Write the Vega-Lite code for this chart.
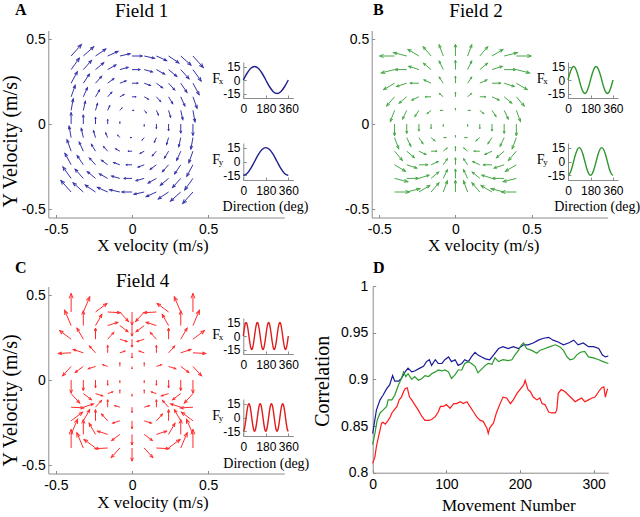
{
"$schema":"https://vega.github.io/schema/vega-lite/v6.json",
"width":640,"height":517,"autosize":{"type":"none"},"padding":0,"background":"white",
"config":{
 "view":{"stroke":null},
 "locale":{"number":{"decimal":".","thousands":",","grouping":[3],"currency":["$",""],"minus":"-"}},
 "axis":{"grid":false,"domainColor":"#8c8c8c","tickColor":"#8c8c8c","tickSize":-3,"labelColor":"#000000","labelFont":"Liberation Sans","labelFontSize":14,"titleFont":"Liberation Serif","titleFontWeight":"normal","titleColor":"#000000","labelFlush":false,"labelOverlap":false}
},
"datasets":{
"q":[
{"x":-0.4,"y":0.4,"u1":5,"v1":5,"u2":-7.071,"v2":0,"u4":0,"v4":7.071},
{"x":-0.32,"y":0.4,"u1":5,"v1":4,"u2":-6.247,"v2":1.406,"u4":2.743,"v4":5.787},
{"x":-0.24,"y":0.4,"u1":5,"v1":3,"u2":-5.145,"v2":2.744,"u4":4.842,"v4":3.248},
{"x":-0.16,"y":0.4,"u1":5,"v1":2,"u2":-3.714,"v2":3.9,"u4":5.379,"v4":-0.263},
{"x":-0.08,"y":0.4,"u1":5,"v1":1,"u2":-1.961,"v2":4.707,"u4":3.621,"v4":-3.591},
{"x":0,"y":0.4,"u1":5,"v1":0,"u2":0,"v2":5,"u4":0,"v4":-5},
{"x":0.08,"y":0.4,"u1":5,"v1":-1,"u2":1.961,"v2":4.707,"u4":-3.621,"v4":-3.591},
{"x":0.16,"y":0.4,"u1":5,"v1":-2,"u2":3.714,"v2":3.9,"u4":-5.379,"v4":-0.263},
{"x":0.24,"y":0.4,"u1":5,"v1":-3,"u2":5.145,"v2":2.744,"u4":-4.842,"v4":3.248},
{"x":0.32,"y":0.4,"u1":5,"v1":-4,"u2":6.247,"v2":1.406,"u4":-2.743,"v4":5.787},
{"x":0.4,"y":0.4,"u1":5,"v1":-5,"u2":7.071,"v2":0,"u4":0,"v4":7.071},
{"x":-0.4,"y":0.32,"u1":4,"v1":5,"u2":-6.247,"v2":-1.406,"u4":-2.743,"v4":5.787},
{"x":-0.32,"y":0.32,"u1":4,"v1":4,"u2":-5.657,"v2":0,"u4":0,"v4":5.657},
{"x":-0.24,"y":0.32,"u1":4,"v1":3,"u2":-4.8,"v2":1.4,"u4":2.688,"v4":4.216},
{"x":-0.16,"y":0.32,"u1":4,"v1":2,"u2":-3.578,"v2":2.683,"u4":4.293,"v4":1.252},
{"x":-0.08,"y":0.32,"u1":4,"v1":1,"u2":-1.94,"v2":3.638,"u4":3.424,"v4":-2.297},
{"x":0,"y":0.32,"u1":4,"v1":0,"u2":0,"v2":4,"u4":0,"v4":-4},
{"x":0.08,"y":0.32,"u1":4,"v1":-1,"u2":1.94,"v2":3.638,"u4":-3.424,"v4":-2.297},
{"x":0.16,"y":0.32,"u1":4,"v1":-2,"u2":3.578,"v2":2.683,"u4":-4.293,"v4":1.252},
{"x":0.24,"y":0.32,"u1":4,"v1":-3,"u2":4.8,"v2":1.4,"u4":-2.688,"v4":4.216},
{"x":0.32,"y":0.32,"u1":4,"v1":-4,"u2":5.657,"v2":0,"u4":0,"v4":5.657},
{"x":0.4,"y":0.32,"u1":4,"v1":-5,"u2":6.247,"v2":-1.406,"u4":2.743,"v4":5.787},
{"x":-0.4,"y":0.24,"u1":3,"v1":5,"u2":-5.145,"v2":-2.744,"u4":-4.842,"v4":3.248},
{"x":-0.32,"y":0.24,"u1":3,"v1":4,"u2":-4.8,"v2":-1.4,"u4":-2.688,"v4":4.216},
{"x":-0.24,"y":0.24,"u1":3,"v1":3,"u2":-4.243,"v2":0,"u4":0,"v4":4.243},
{"x":-0.16,"y":0.24,"u1":3,"v1":2,"u2":-3.328,"v2":1.387,"u4":2.56,"v4":2.539},
{"x":-0.08,"y":0.24,"u1":3,"v1":1,"u2":-1.897,"v2":2.53,"u4":3.036,"v4":-0.886},
{"x":0,"y":0.24,"u1":3,"v1":0,"u2":0,"v2":3,"u4":0,"v4":-3},
{"x":0.08,"y":0.24,"u1":3,"v1":-1,"u2":1.897,"v2":2.53,"u4":-3.036,"v4":-0.886},
{"x":0.16,"y":0.24,"u1":3,"v1":-2,"u2":3.328,"v2":1.387,"u4":-2.56,"v4":2.539},
{"x":0.24,"y":0.24,"u1":3,"v1":-3,"u2":4.243,"v2":0,"u4":0,"v4":4.243},
{"x":0.32,"y":0.24,"u1":3,"v1":-4,"u2":4.8,"v2":-1.4,"u4":2.688,"v4":4.216},
{"x":0.4,"y":0.24,"u1":3,"v1":-5,"u2":5.145,"v2":-2.744,"u4":4.842,"v4":3.248},
{"x":-0.4,"y":0.16,"u1":2,"v1":5,"u2":-3.714,"v2":-3.9,"u4":-5.379,"v4":-0.263},
{"x":-0.32,"y":0.16,"u1":2,"v1":4,"u2":-3.578,"v2":-2.683,"u4":-4.293,"v4":1.252},
{"x":-0.24,"y":0.16,"u1":2,"v1":3,"u2":-3.328,"v2":-1.387,"u4":-2.56,"v4":2.539},
{"x":-0.16,"y":0.16,"u1":2,"v1":2,"u2":-2.828,"v2":0,"u4":0,"v4":2.828},
{"x":-0.08,"y":0.16,"u1":2,"v1":1,"u2":-1.789,"v2":1.342,"u4":2.147,"v4":0.626},
{"x":0,"y":0.16,"u1":2,"v1":0,"u2":0,"v2":2,"u4":0,"v4":-2},
{"x":0.08,"y":0.16,"u1":2,"v1":-1,"u2":1.789,"v2":1.342,"u4":-2.147,"v4":0.626},
{"x":0.16,"y":0.16,"u1":2,"v1":-2,"u2":2.828,"v2":0,"u4":0,"v4":2.828},
{"x":0.24,"y":0.16,"u1":2,"v1":-3,"u2":3.328,"v2":-1.387,"u4":2.56,"v4":2.539},
{"x":0.32,"y":0.16,"u1":2,"v1":-4,"u2":3.578,"v2":-2.683,"u4":4.293,"v4":1.252},
{"x":0.4,"y":0.16,"u1":2,"v1":-5,"u2":3.714,"v2":-3.9,"u4":5.379,"v4":-0.263},
{"x":-0.4,"y":0.08,"u1":1,"v1":5,"u2":-1.961,"v2":-4.707,"u4":-3.621,"v4":-3.591},
{"x":-0.32,"y":0.08,"u1":1,"v1":4,"u2":-1.94,"v2":-3.638,"u4":-3.424,"v4":-2.297},
{"x":-0.24,"y":0.08,"u1":1,"v1":3,"u2":-1.897,"v2":-2.53,"u4":-3.036,"v4":-0.886},
{"x":-0.16,"y":0.08,"u1":1,"v1":2,"u2":-1.789,"v2":-1.342,"u4":-2.147,"v4":0.626},
{"x":-0.08,"y":0.08,"u1":1,"v1":1,"u2":-1.414,"v2":0,"u4":0,"v4":1.414},
{"x":0,"y":0.08,"u1":1,"v1":0,"u2":0,"v2":1,"u4":0,"v4":-1},
{"x":0.08,"y":0.08,"u1":1,"v1":-1,"u2":1.414,"v2":0,"u4":0,"v4":1.414},
{"x":0.16,"y":0.08,"u1":1,"v1":-2,"u2":1.789,"v2":-1.342,"u4":2.147,"v4":0.626},
{"x":0.24,"y":0.08,"u1":1,"v1":-3,"u2":1.897,"v2":-2.53,"u4":3.036,"v4":-0.886},
{"x":0.32,"y":0.08,"u1":1,"v1":-4,"u2":1.94,"v2":-3.638,"u4":3.424,"v4":-2.297},
{"x":0.4,"y":0.08,"u1":1,"v1":-5,"u2":1.961,"v2":-4.707,"u4":3.621,"v4":-3.591},
{"x":-0.4,"y":0,"u1":0,"v1":5,"u2":0,"v2":-5,"u4":0,"v4":-5},
{"x":-0.32,"y":0,"u1":0,"v1":4,"u2":0,"v2":-4,"u4":0,"v4":-4},
{"x":-0.24,"y":0,"u1":0,"v1":3,"u2":0,"v2":-3,"u4":0,"v4":-3},
{"x":-0.16,"y":0,"u1":0,"v1":2,"u2":0,"v2":-2,"u4":0,"v4":-2},
{"x":-0.08,"y":0,"u1":0,"v1":1,"u2":0,"v2":-1,"u4":0,"v4":-1},
{"x":0.08,"y":0,"u1":0,"v1":-1,"u2":0,"v2":-1,"u4":0,"v4":-1},
{"x":0.16,"y":0,"u1":0,"v1":-2,"u2":0,"v2":-2,"u4":0,"v4":-2},
{"x":0.24,"y":0,"u1":0,"v1":-3,"u2":0,"v2":-3,"u4":0,"v4":-3},
{"x":0.32,"y":0,"u1":0,"v1":-4,"u2":0,"v2":-4,"u4":0,"v4":-4},
{"x":0.4,"y":0,"u1":0,"v1":-5,"u2":0,"v2":-5,"u4":0,"v4":-5},
{"x":-0.4,"y":-0.08,"u1":-1,"v1":5,"u2":1.961,"v2":-4.707,"u4":3.621,"v4":-3.591},
{"x":-0.32,"y":-0.08,"u1":-1,"v1":4,"u2":1.94,"v2":-3.638,"u4":3.424,"v4":-2.297},
{"x":-0.24,"y":-0.08,"u1":-1,"v1":3,"u2":1.897,"v2":-2.53,"u4":3.036,"v4":-0.886},
{"x":-0.16,"y":-0.08,"u1":-1,"v1":2,"u2":1.789,"v2":-1.342,"u4":2.147,"v4":0.626},
{"x":-0.08,"y":-0.08,"u1":-1,"v1":1,"u2":1.414,"v2":0,"u4":0,"v4":1.414},
{"x":0,"y":-0.08,"u1":-1,"v1":0,"u2":0,"v2":1,"u4":0,"v4":-1},
{"x":0.08,"y":-0.08,"u1":-1,"v1":-1,"u2":-1.414,"v2":0,"u4":0,"v4":1.414},
{"x":0.16,"y":-0.08,"u1":-1,"v1":-2,"u2":-1.789,"v2":-1.342,"u4":-2.147,"v4":0.626},
{"x":0.24,"y":-0.08,"u1":-1,"v1":-3,"u2":-1.897,"v2":-2.53,"u4":-3.036,"v4":-0.886},
{"x":0.32,"y":-0.08,"u1":-1,"v1":-4,"u2":-1.94,"v2":-3.638,"u4":-3.424,"v4":-2.297},
{"x":0.4,"y":-0.08,"u1":-1,"v1":-5,"u2":-1.961,"v2":-4.707,"u4":-3.621,"v4":-3.591},
{"x":-0.4,"y":-0.16,"u1":-2,"v1":5,"u2":3.714,"v2":-3.9,"u4":5.379,"v4":-0.263},
{"x":-0.32,"y":-0.16,"u1":-2,"v1":4,"u2":3.578,"v2":-2.683,"u4":4.293,"v4":1.252},
{"x":-0.24,"y":-0.16,"u1":-2,"v1":3,"u2":3.328,"v2":-1.387,"u4":2.56,"v4":2.539},
{"x":-0.16,"y":-0.16,"u1":-2,"v1":2,"u2":2.828,"v2":0,"u4":0,"v4":2.828},
{"x":-0.08,"y":-0.16,"u1":-2,"v1":1,"u2":1.789,"v2":1.342,"u4":-2.147,"v4":0.626},
{"x":0,"y":-0.16,"u1":-2,"v1":0,"u2":0,"v2":2,"u4":0,"v4":-2},
{"x":0.08,"y":-0.16,"u1":-2,"v1":-1,"u2":-1.789,"v2":1.342,"u4":2.147,"v4":0.626},
{"x":0.16,"y":-0.16,"u1":-2,"v1":-2,"u2":-2.828,"v2":0,"u4":0,"v4":2.828},
{"x":0.24,"y":-0.16,"u1":-2,"v1":-3,"u2":-3.328,"v2":-1.387,"u4":-2.56,"v4":2.539},
{"x":0.32,"y":-0.16,"u1":-2,"v1":-4,"u2":-3.578,"v2":-2.683,"u4":-4.293,"v4":1.252},
{"x":0.4,"y":-0.16,"u1":-2,"v1":-5,"u2":-3.714,"v2":-3.9,"u4":-5.379,"v4":-0.263},
{"x":-0.4,"y":-0.24,"u1":-3,"v1":5,"u2":5.145,"v2":-2.744,"u4":4.842,"v4":3.248},
{"x":-0.32,"y":-0.24,"u1":-3,"v1":4,"u2":4.8,"v2":-1.4,"u4":2.688,"v4":4.216},
{"x":-0.24,"y":-0.24,"u1":-3,"v1":3,"u2":4.243,"v2":0,"u4":0,"v4":4.243},
{"x":-0.16,"y":-0.24,"u1":-3,"v1":2,"u2":3.328,"v2":1.387,"u4":-2.56,"v4":2.539},
{"x":-0.08,"y":-0.24,"u1":-3,"v1":1,"u2":1.897,"v2":2.53,"u4":-3.036,"v4":-0.886},
{"x":0,"y":-0.24,"u1":-3,"v1":0,"u2":0,"v2":3,"u4":0,"v4":-3},
{"x":0.08,"y":-0.24,"u1":-3,"v1":-1,"u2":-1.897,"v2":2.53,"u4":3.036,"v4":-0.886},
{"x":0.16,"y":-0.24,"u1":-3,"v1":-2,"u2":-3.328,"v2":1.387,"u4":2.56,"v4":2.539},
{"x":0.24,"y":-0.24,"u1":-3,"v1":-3,"u2":-4.243,"v2":0,"u4":0,"v4":4.243},
{"x":0.32,"y":-0.24,"u1":-3,"v1":-4,"u2":-4.8,"v2":-1.4,"u4":-2.688,"v4":4.216},
{"x":0.4,"y":-0.24,"u1":-3,"v1":-5,"u2":-5.145,"v2":-2.744,"u4":-4.842,"v4":3.248},
{"x":-0.4,"y":-0.32,"u1":-4,"v1":5,"u2":6.247,"v2":-1.406,"u4":2.743,"v4":5.787},
{"x":-0.32,"y":-0.32,"u1":-4,"v1":4,"u2":5.657,"v2":0,"u4":0,"v4":5.657},
{"x":-0.24,"y":-0.32,"u1":-4,"v1":3,"u2":4.8,"v2":1.4,"u4":-2.688,"v4":4.216},
{"x":-0.16,"y":-0.32,"u1":-4,"v1":2,"u2":3.578,"v2":2.683,"u4":-4.293,"v4":1.252},
{"x":-0.08,"y":-0.32,"u1":-4,"v1":1,"u2":1.94,"v2":3.638,"u4":-3.424,"v4":-2.297},
{"x":0,"y":-0.32,"u1":-4,"v1":0,"u2":0,"v2":4,"u4":0,"v4":-4},
{"x":0.08,"y":-0.32,"u1":-4,"v1":-1,"u2":-1.94,"v2":3.638,"u4":3.424,"v4":-2.297},
{"x":0.16,"y":-0.32,"u1":-4,"v1":-2,"u2":-3.578,"v2":2.683,"u4":4.293,"v4":1.252},
{"x":0.24,"y":-0.32,"u1":-4,"v1":-3,"u2":-4.8,"v2":1.4,"u4":2.688,"v4":4.216},
{"x":0.32,"y":-0.32,"u1":-4,"v1":-4,"u2":-5.657,"v2":0,"u4":0,"v4":5.657},
{"x":0.4,"y":-0.32,"u1":-4,"v1":-5,"u2":-6.247,"v2":-1.406,"u4":-2.743,"v4":5.787},
{"x":-0.4,"y":-0.4,"u1":-5,"v1":5,"u2":7.071,"v2":0,"u4":0,"v4":7.071},
{"x":-0.32,"y":-0.4,"u1":-5,"v1":4,"u2":6.247,"v2":1.406,"u4":-2.743,"v4":5.787},
{"x":-0.24,"y":-0.4,"u1":-5,"v1":3,"u2":5.145,"v2":2.744,"u4":-4.842,"v4":3.248},
{"x":-0.16,"y":-0.4,"u1":-5,"v1":2,"u2":3.714,"v2":3.9,"u4":-5.379,"v4":-0.263},
{"x":-0.08,"y":-0.4,"u1":-5,"v1":1,"u2":1.961,"v2":4.707,"u4":-3.621,"v4":-3.591},
{"x":0,"y":-0.4,"u1":-5,"v1":0,"u2":0,"v2":5,"u4":0,"v4":-5},
{"x":0.08,"y":-0.4,"u1":-5,"v1":-1,"u2":-1.961,"v2":4.707,"u4":3.621,"v4":-3.591},
{"x":0.16,"y":-0.4,"u1":-5,"v1":-2,"u2":-3.714,"v2":3.9,"u4":5.379,"v4":-0.263},
{"x":0.24,"y":-0.4,"u1":-5,"v1":-3,"u2":-5.145,"v2":2.744,"u4":4.842,"v4":3.248},
{"x":0.32,"y":-0.4,"u1":-5,"v1":-4,"u2":-6.247,"v2":1.406,"u4":2.743,"v4":5.787},
{"x":0.4,"y":-0.4,"u1":-5,"v1":-5,"u2":-7.071,"v2":0,"u4":0,"v4":7.071}
],
"s":[
{"f":1,"d":0,"fx":0,"fy":-15},{"f":1,"d":30,"fx":7.5,"fy":-12.99},{"f":1,"d":60,"fx":12.99,"fy":-7.5},{"f":1,"d":90,"fx":15,"fy":0},{"f":1,"d":120,"fx":12.99,"fy":7.5},{"f":1,"d":150,"fx":7.5,"fy":12.99},{"f":1,"d":180,"fx":0,"fy":15},{"f":1,"d":210,"fx":-7.5,"fy":12.99},{"f":1,"d":240,"fx":-12.99,"fy":7.5},{"f":1,"d":270,"fx":-15,"fy":0},{"f":1,"d":300,"fx":-12.99,"fy":-7.5},{"f":1,"d":330,"fx":-7.5,"fy":-12.99},{"f":1,"d":360,"fx":0,"fy":-15},
{"f":2,"d":0,"fx":0,"fy":-15},{"f":2,"d":15,"fx":7.5,"fy":-12.99},{"f":2,"d":30,"fx":12.99,"fy":-7.5},{"f":2,"d":45,"fx":15,"fy":0},{"f":2,"d":60,"fx":12.99,"fy":7.5},{"f":2,"d":75,"fx":7.5,"fy":12.99},{"f":2,"d":90,"fx":0,"fy":15},{"f":2,"d":105,"fx":-7.5,"fy":12.99},{"f":2,"d":120,"fx":-12.99,"fy":7.5},{"f":2,"d":135,"fx":-15,"fy":0},{"f":2,"d":150,"fx":-12.99,"fy":-7.5},{"f":2,"d":165,"fx":-7.5,"fy":-12.99},
{"f":2,"d":180,"fx":0,"fy":-15},{"f":2,"d":195,"fx":7.5,"fy":-12.99},{"f":2,"d":210,"fx":12.99,"fy":-7.5},{"f":2,"d":225,"fx":15,"fy":0},{"f":2,"d":240,"fx":12.99,"fy":7.5},{"f":2,"d":255,"fx":7.5,"fy":12.99},{"f":2,"d":270,"fx":0,"fy":15},{"f":2,"d":285,"fx":-7.5,"fy":12.99},{"f":2,"d":300,"fx":-12.99,"fy":7.5},{"f":2,"d":315,"fx":-15,"fy":0},{"f":2,"d":330,"fx":-12.99,"fy":-7.5},{"f":2,"d":345,"fx":-7.5,"fy":-12.99},{"f":2,"d":360,"fx":0,"fy":-15},
{"f":4,"d":0,"fx":0,"fy":-15},{"f":4,"d":7.5,"fx":7.5,"fy":-12.99},{"f":4,"d":15,"fx":12.99,"fy":-7.5},{"f":4,"d":22.5,"fx":15,"fy":0},{"f":4,"d":30,"fx":12.99,"fy":7.5},{"f":4,"d":37.5,"fx":7.5,"fy":12.99},{"f":4,"d":45,"fx":0,"fy":15},{"f":4,"d":52.5,"fx":-7.5,"fy":12.99},{"f":4,"d":60,"fx":-12.99,"fy":7.5},{"f":4,"d":67.5,"fx":-15,"fy":0},{"f":4,"d":75,"fx":-12.99,"fy":-7.5},{"f":4,"d":82.5,"fx":-7.5,"fy":-12.99},
{"f":4,"d":90,"fx":0,"fy":-15},{"f":4,"d":97.5,"fx":7.5,"fy":-12.99},{"f":4,"d":105,"fx":12.99,"fy":-7.5},{"f":4,"d":112.5,"fx":15,"fy":0},{"f":4,"d":120,"fx":12.99,"fy":7.5},{"f":4,"d":127.5,"fx":7.5,"fy":12.99},{"f":4,"d":135,"fx":0,"fy":15},{"f":4,"d":142.5,"fx":-7.5,"fy":12.99},{"f":4,"d":150,"fx":-12.99,"fy":7.5},{"f":4,"d":157.5,"fx":-15,"fy":0},{"f":4,"d":165,"fx":-12.99,"fy":-7.5},{"f":4,"d":172.5,"fx":-7.5,"fy":-12.99},
{"f":4,"d":180,"fx":0,"fy":-15},{"f":4,"d":187.5,"fx":7.5,"fy":-12.99},{"f":4,"d":195,"fx":12.99,"fy":-7.5},{"f":4,"d":202.5,"fx":15,"fy":0},{"f":4,"d":210,"fx":12.99,"fy":7.5},{"f":4,"d":217.5,"fx":7.5,"fy":12.99},{"f":4,"d":225,"fx":0,"fy":15},{"f":4,"d":232.5,"fx":-7.5,"fy":12.99},{"f":4,"d":240,"fx":-12.99,"fy":7.5},{"f":4,"d":247.5,"fx":-15,"fy":0},{"f":4,"d":255,"fx":-12.99,"fy":-7.5},{"f":4,"d":262.5,"fx":-7.5,"fy":-12.99},
{"f":4,"d":270,"fx":0,"fy":-15},{"f":4,"d":277.5,"fx":7.5,"fy":-12.99},{"f":4,"d":285,"fx":12.99,"fy":-7.5},{"f":4,"d":292.5,"fx":15,"fy":0},{"f":4,"d":300,"fx":12.99,"fy":7.5},{"f":4,"d":307.5,"fx":7.5,"fy":12.99},{"f":4,"d":315,"fx":0,"fy":15},{"f":4,"d":322.5,"fx":-7.5,"fy":12.99},{"f":4,"d":330,"fx":-12.99,"fy":7.5},{"f":4,"d":337.5,"fx":-15,"fy":0},{"f":4,"d":345,"fx":-12.99,"fy":-7.5},{"f":4,"d":352.5,"fx":-7.5,"fy":-12.99},{"f":4,"d":360,"fx":0,"fy":-15}
],
"c":[
{"s":"b","n":0,"c":0.842},{"s":"b","n":5,"c":0.867},{"s":"b","n":10,"c":0.878},{"s":"b","n":14,"c":0.883},{"s":"b","n":19,"c":0.89},{"s":"b","n":23,"c":0.894},{"s":"b","n":27,"c":0.904},{"s":"b","n":30,"c":0.898},{"s":"b","n":35,"c":0.898},{"s":"b","n":39,"c":0.901},{"s":"b","n":44,"c":0.908},{"s":"b","n":48,"c":0.912},{"s":"b","n":53,"c":0.908},{"s":"b","n":57,"c":0.909},{"s":"b","n":64,"c":0.912},{"s":"b","n":69,"c":0.914},{"s":"b","n":73,"c":0.919},{"s":"b","n":77,"c":0.921},{"s":"b","n":80,"c":0.915},{"s":"b","n":85,"c":0.921},{"s":"b","n":89,"c":0.917},{"s":"b","n":94,"c":0.917},{"s":"b","n":98,"c":0.921},{"s":"b","n":103,"c":0.924},{"s":"b","n":107,"c":0.919},{"s":"b","n":112,"c":0.921},{"s":"b","n":116,"c":0.915},{"s":"b","n":121,"c":0.917},{"s":"b","n":125,"c":0.921},{"s":"b","n":130,"c":0.919},{"s":"b","n":134,"c":0.924},{"s":"b","n":139,"c":0.929},{"s":"b","n":143,"c":0.926},{"s":"b","n":148,"c":0.924},{"s":"b","n":153,"c":0.922},{"s":"b","n":159,"c":0.921},{"s":"b","n":164,"c":0.926},{"s":"b","n":171,"c":0.933},{"s":"b","n":177,"c":0.935},{"s":"b","n":184,"c":0.933},{"s":"b","n":191,"c":0.935},{"s":"b","n":198,"c":0.933},{"s":"b","n":205,"c":0.937},{"s":"b","n":211,"c":0.937},{"s":"b","n":218,"c":0.939},{"s":"b","n":225,"c":0.942},{"s":"b","n":232,"c":0.944},{"s":"b","n":239,"c":0.945},{"s":"b","n":245,"c":0.942},{"s":"b","n":252,"c":0.94},{"s":"b","n":259,"c":0.937},{"s":"b","n":266,"c":0.939},{"s":"b","n":273,"c":0.942},{"s":"b","n":279,"c":0.937},{"s":"b","n":286,"c":0.939},{"s":"b","n":293,"c":0.935},{"s":"b","n":300,"c":0.935},{"s":"b","n":307,"c":0.933},{"s":"b","n":312,"c":0.926},{"s":"b","n":316,"c":0.924},{"s":"b","n":320,"c":0.925},
{"s":"g","n":0,"c":0.83},{"s":"g","n":3,"c":0.842},{"s":"g","n":6,"c":0.856},{"s":"g","n":10,"c":0.864},{"s":"g","n":14,"c":0.867},{"s":"g","n":19,"c":0.871},{"s":"g","n":21,"c":0.878},{"s":"g","n":26,"c":0.878},{"s":"g","n":30,"c":0.883},{"s":"g","n":35,"c":0.894},{"s":"g","n":39,"c":0.901},{"s":"g","n":42,"c":0.908},{"s":"g","n":45,"c":0.903},{"s":"g","n":48,"c":0.906},{"s":"g","n":53,"c":0.9},{"s":"g","n":57,"c":0.903},{"s":"g","n":62,"c":0.899},{"s":"g","n":67,"c":0.901},{"s":"g","n":71,"c":0.904},{"s":"g","n":76,"c":0.903},{"s":"g","n":80,"c":0.906},{"s":"g","n":85,"c":0.908},{"s":"g","n":89,"c":0.91},{"s":"g","n":94,"c":0.909},{"s":"g","n":98,"c":0.91},{"s":"g","n":103,"c":0.908},{"s":"g","n":107,"c":0.901},{"s":"g","n":112,"c":0.905},{"s":"g","n":116,"c":0.91},{"s":"g","n":121,"c":0.91},{"s":"g","n":125,"c":0.917},{"s":"g","n":130,"c":0.919},{"s":"g","n":134,"c":0.917},{"s":"g","n":139,"c":0.914},{"s":"g","n":143,"c":0.907},{"s":"g","n":148,"c":0.911},{"s":"g","n":153,"c":0.915},{"s":"g","n":157,"c":0.917},{"s":"g","n":162,"c":0.916},{"s":"g","n":166,"c":0.923},{"s":"g","n":171,"c":0.919},{"s":"g","n":177,"c":0.921},{"s":"g","n":184,"c":0.92},{"s":"g","n":189,"c":0.921},{"s":"g","n":193,"c":0.926},{"s":"g","n":198,"c":0.931},{"s":"g","n":202,"c":0.937},{"s":"g","n":205,"c":0.939},{"s":"g","n":209,"c":0.933},{"s":"g","n":216,"c":0.931},{"s":"g","n":223,"c":0.928},{"s":"g","n":227,"c":0.931},{"s":"g","n":234,"c":0.933},{"s":"g","n":241,"c":0.935},{"s":"g","n":248,"c":0.937},{"s":"g","n":254,"c":0.935},{"s":"g","n":259,"c":0.931},{"s":"g","n":264,"c":0.924},{"s":"g","n":268,"c":0.921},{"s":"g","n":273,"c":0.922},{"s":"g","n":277,"c":0.926},{"s":"g","n":282,"c":0.929},{"s":"g","n":288,"c":0.93},{"s":"g","n":293,"c":0.924},{"s":"g","n":300,"c":0.923},{"s":"g","n":307,"c":0.921},{"s":"g","n":313,"c":0.919},{"s":"g","n":320,"c":0.917},
{"s":"r","n":0,"c":0.81},{"s":"r","n":3,"c":0.817},{"s":"r","n":5,"c":0.828},{"s":"r","n":8,"c":0.839},{"s":"r","n":10,"c":0.846},{"s":"r","n":12,"c":0.853},{"s":"r","n":14,"c":0.854},{"s":"r","n":17,"c":0.852},{"s":"r","n":19,"c":0.854},{"s":"r","n":21,"c":0.856},{"s":"r","n":24,"c":0.86},{"s":"r","n":26,"c":0.864},{"s":"r","n":29,"c":0.867},{"s":"r","n":33,"c":0.871},{"s":"r","n":36,"c":0.878},{"s":"r","n":39,"c":0.881},{"s":"r","n":42,"c":0.887},{"s":"r","n":44,"c":0.89},{"s":"r","n":47,"c":0.891},{"s":"r","n":50,"c":0.881},{"s":"r","n":53,"c":0.878},{"s":"r","n":57,"c":0.873},{"s":"r","n":62,"c":0.867},{"s":"r","n":67,"c":0.86},{"s":"r","n":71,"c":0.856},{"s":"r","n":76,"c":0.856},{"s":"r","n":80,"c":0.857},{"s":"r","n":85,"c":0.86},{"s":"r","n":89,"c":0.865},{"s":"r","n":92,"c":0.871},{"s":"r","n":96,"c":0.871},{"s":"r","n":100,"c":0.873},{"s":"r","n":105,"c":0.869},{"s":"r","n":110,"c":0.874},{"s":"r","n":114,"c":0.874},{"s":"r","n":119,"c":0.876},{"s":"r","n":123,"c":0.874},{"s":"r","n":128,"c":0.876},{"s":"r","n":132,"c":0.871},{"s":"r","n":137,"c":0.865},{"s":"r","n":141,"c":0.86},{"s":"r","n":146,"c":0.856},{"s":"r","n":150,"c":0.855},{"s":"r","n":155,"c":0.848},{"s":"r","n":157,"c":0.842},{"s":"r","n":159,"c":0.848},{"s":"r","n":164,"c":0.853},{"s":"r","n":168,"c":0.864},{"s":"r","n":173,"c":0.874},{"s":"r","n":177,"c":0.881},{"s":"r","n":182,"c":0.88},{"s":"r","n":187,"c":0.874},{"s":"r","n":191,"c":0.878},{"s":"r","n":196,"c":0.885},{"s":"r","n":200,"c":0.889},{"s":"r","n":205,"c":0.894},{"s":"r","n":207,"c":0.899},{"s":"r","n":211,"c":0.889},{"s":"r","n":214,"c":0.887},{"s":"r","n":218,"c":0.881},{"s":"r","n":223,"c":0.878},{"s":"r","n":227,"c":0.88},{"s":"r","n":230,"c":0.874},{"s":"r","n":234,"c":0.873},{"s":"r","n":239,"c":0.865},{"s":"r","n":243,"c":0.864},{"s":"r","n":248,"c":0.864},{"s":"r","n":250,"c":0.867},{"s":"r","n":252,"c":0.885},{"s":"r","n":256,"c":0.889},{"s":"r","n":261,"c":0.887},{"s":"r","n":266,"c":0.883},{"s":"r","n":270,"c":0.88},{"s":"r","n":275,"c":0.876},{"s":"r","n":279,"c":0.878},{"s":"r","n":284,"c":0.88},{"s":"r","n":288,"c":0.876},{"s":"r","n":293,"c":0.878},{"s":"r","n":298,"c":0.88},{"s":"r","n":302,"c":0.881},{"s":"r","n":307,"c":0.887},{"s":"r","n":311,"c":0.891},{"s":"r","n":314,"c":0.892},{"s":"r","n":316,"c":0.881},{"s":"r","n":319,"c":0.89}
]
},
"layer":[
{
 "layer":[
  {"data":{"name":"q"},"transform":[{"calculate":"datum.x+0.0135*datum.u1","as":"hx"},{"calculate":"datum.y+0.0135*datum.v1","as":"hy"}],
   "mark":{"type":"rule","color":"#3333aa","strokeWidth":1},
   "encoding":{
    "x":{"field":"x","type":"quantitative","scale":{"domain":[-0.55,1.0],"range":[48.3,284.3]},"axis":{"orient":"bottom","offset":-299.5,"values":[-0.5,0,0.5],"format":".6~g","labelPadding":8,"title":"X velocity (m/s)","titleFontSize":17,"titleX":152.5,"titleY":33,"titleBaseline":"alphabetic"}},
    "y":{"field":"y","type":"quantitative","scale":{"domain":[-0.55,0.55],"range":[217.5,30.5]},"axis":{"orient":"left","offset":-48.3,"values":[-0.5,0,0.5],"format":".6~g","labelPadding":6,"title":"Y Velocity (m/s)","titleFontSize":20,"titleX":-31.6,"titleY":141,"titleBaseline":"alphabetic","titleAngle":-90}},
    "x2":{"field":"hx"},"y2":{"field":"hy"}}},
  {"data":{"name":"q"},"transform":[{"calculate":"datum.x+0.0135*datum.u1","as":"hx"},{"calculate":"datum.y+0.0135*datum.v1","as":"hy"},{"calculate":"2.056*datum.u1","as":"dx"},{"calculate":"2.295*datum.v1","as":"dy"},{"calculate":"atan2(datum.dx,datum.dy)*180/PI","as":"ang"},{"calculate":"0.28*(datum.dx*datum.dx+datum.dy*datum.dy)","as":"hs"}],
   "mark":{"type":"point","shape":"M-0.4,1L0,0L0.4,1","filled":false,"color":"#3333aa","strokeWidth":1,"opacity":1},
   "encoding":{"x":{"field":"hx","type":"quantitative","scale":{"domain":[-0.55,1.0],"range":[48.3,284.3]}},"y":{"field":"hy","type":"quantitative","scale":{"domain":[-0.55,0.55],"range":[217.5,30.5]}},"angle":{"field":"ang","type":"quantitative","scale":null},"size":{"field":"hs","type":"quantitative","scale":null}}},
  {"data":{"values":[{"t":"A"}]},"mark":{"type":"text","font":"Liberation Serif","color":"#000000","fontWeight":"bold","fontSize":16,"align":"left","baseline":"alphabetic"},"encoding":{"text":{"field":"t","type":"nominal"},"x":{"datum":-0.769,"type":"quantitative","scale":{"domain":[-0.55,1.0],"range":[48.3,284.3]}},"y":{"datum":0.641,"type":"quantitative","scale":{"domain":[-0.55,0.55],"range":[217.5,30.5]}}}},
  {"data":{"values":[{"t":"Field 1"}]},"mark":{"type":"text","font":"Liberation Serif","color":"#000000","fontSize":19,"align":"center","baseline":"alphabetic"},"encoding":{"text":{"field":"t","type":"nominal"},"x":{"datum":0.063,"type":"quantitative","scale":{"domain":[-0.55,1.0],"range":[48.3,284.3]}},"y":{"datum":0.629,"type":"quantitative","scale":{"domain":[-0.55,0.55],"range":[217.5,30.5]}}}}
 ]
},
{
 "layer":[
  {"data":{"name":"s"},"transform":[{"filter":"datum.f==1"}],"mark":{"type":"line","color":"#1f1f8f","strokeWidth":1.4,"interpolate":"monotone"},
   "encoding":{
    "x":{"field":"d","type":"quantitative","scale":{"domain":[0,400],"range":[243.3,293.3]},"axis":{"orient":"bottom","offset":-419,"values":[0,180,360],"format":".6~g","labelFontSize":12,"labelPadding":8.5,"title":null}},
    "y":{"field":"fx","type":"quantitative","scale":{"domain":[-20,20],"range":[98,62]},"axis":{"orient":"left","offset":-243.3,"values":[-15,0,15],"format":".6~g","labelFontSize":12,"labelPadding":6.3,"title":null}}}},
  {"data":{"values":[{"t":"F"}]},"mark":{"type":"text","font":"Liberation Serif","color":"#000000","fontSize":14,"align":"left","baseline":"alphabetic"},"encoding":{"text":{"field":"t","type":"nominal"},"x":{"datum":-248,"type":"quantitative","scale":{"domain":[0,400],"range":[243.3,293.3]}},"y":{"datum":-3,"type":"quantitative","scale":{"domain":[-20,20],"range":[98,62]}}}},
  {"data":{"values":[{"t":"x"}]},"mark":{"type":"text","font":"Liberation Serif","color":"#000000","fontSize":9,"align":"left","baseline":"alphabetic"},"encoding":{"text":{"field":"t","type":"nominal"},"x":{"datum":-196,"type":"quantitative","scale":{"domain":[0,400],"range":[243.3,293.3]}},"y":{"datum":-4.5,"type":"quantitative","scale":{"domain":[-20,20],"range":[98,62]}}}}
 ]
},
{
 "layer":[
  {"data":{"name":"s"},"transform":[{"filter":"datum.f==1"}],"mark":{"type":"line","color":"#1f1f8f","strokeWidth":1.4,"interpolate":"monotone"},
   "encoding":{
    "x":{"field":"d","type":"quantitative","scale":{"domain":[0,400],"range":[243.3,293.3]},"axis":{"orient":"bottom","offset":-337,"values":[0,180,360],"format":".6~g","labelFontSize":12,"labelPadding":8.5,"title":"Direction (deg)","titleFontSize":14,"titleX":265,"titleY":30,"titleBaseline":"alphabetic"}},
    "y":{"field":"fy","type":"quantitative","scale":{"domain":[-20,20],"range":[180,143]},"axis":{"orient":"left","offset":-243.3,"values":[-15,0,15],"format":".6~g","labelFontSize":12,"labelPadding":6.3,"title":null}}}},
  {"data":{"values":[{"t":"F"}]},"mark":{"type":"text","font":"Liberation Serif","color":"#000000","fontSize":14,"align":"left","baseline":"alphabetic"},"encoding":{"text":{"field":"t","type":"nominal"},"x":{"datum":-248,"type":"quantitative","scale":{"domain":[0,400],"range":[243.3,293.3]}},"y":{"datum":-2.7,"type":"quantitative","scale":{"domain":[-20,20],"range":[180,143]}}}},
  {"data":{"values":[{"t":"y"}]},"mark":{"type":"text","font":"Liberation Serif","color":"#000000","fontSize":9,"align":"left","baseline":"alphabetic"},"encoding":{"text":{"field":"t","type":"nominal"},"x":{"datum":-196,"type":"quantitative","scale":{"domain":[0,400],"range":[243.3,293.3]}},"y":{"datum":-4.3,"type":"quantitative","scale":{"domain":[-20,20],"range":[180,143]}}}}
 ]
},
{
 "layer":[
  {"data":{"name":"q"},"transform":[{"calculate":"datum.x+0.0139*datum.u2","as":"hx"},{"calculate":"datum.y+0.0139*datum.v2","as":"hy"}],
   "mark":{"type":"rule","color":"#48a848","strokeWidth":1},
   "encoding":{
    "x":{"field":"x","type":"quantitative","scale":{"domain":[-0.55,1.0],"range":[371.7,607.7]},"axis":{"orient":"bottom","offset":-299.5,"values":[-0.5,0,0.5],"format":".6~g","labelPadding":8,"title":"X velocity (m/s)","titleFontSize":17,"titleX":483.3,"titleY":33,"titleBaseline":"alphabetic"}},
    "y":{"field":"y","type":"quantitative","scale":{"domain":[-0.55,0.55],"range":[217.5,30.5]},"axis":{"orient":"left","offset":-371.7,"values":[-0.5,0,0.5],"format":".6~g","labelPadding":6,"title":null}},
    "x2":{"field":"hx"},"y2":{"field":"hy"}}},
  {"data":{"name":"q"},"transform":[{"calculate":"datum.x+0.0139*datum.u2","as":"hx"},{"calculate":"datum.y+0.0139*datum.v2","as":"hy"},{"calculate":"2.117*datum.u2","as":"dx"},{"calculate":"2.363*datum.v2","as":"dy"},{"calculate":"atan2(datum.dx,datum.dy)*180/PI","as":"ang"},{"calculate":"0.28*(datum.dx*datum.dx+datum.dy*datum.dy)","as":"hs"}],
   "mark":{"type":"point","shape":"M-0.4,1L0,0L0.4,1","filled":false,"color":"#48a848","strokeWidth":1,"opacity":1},
   "encoding":{"x":{"field":"hx","type":"quantitative","scale":{"domain":[-0.55,1.0],"range":[371.7,607.7]}},"y":{"field":"hy","type":"quantitative","scale":{"domain":[-0.55,0.55],"range":[217.5,30.5]}},"angle":{"field":"ang","type":"quantitative","scale":null},"size":{"field":"hs","type":"quantitative","scale":null}}},
  {"data":{"values":[{"t":"B"}]},"mark":{"type":"text","font":"Liberation Serif","color":"#000000","fontWeight":"bold","fontSize":16,"align":"left","baseline":"alphabetic"},"encoding":{"text":{"field":"t","type":"nominal"},"x":{"datum":-0.541,"type":"quantitative","scale":{"domain":[-0.55,1.0],"range":[371.7,607.7]}},"y":{"datum":0.641,"type":"quantitative","scale":{"domain":[-0.55,0.55],"range":[217.5,30.5]}}}},
  {"data":{"values":[{"t":"Field 2"}]},"mark":{"type":"text","font":"Liberation Serif","color":"#000000","fontSize":19,"align":"center","baseline":"alphabetic"},"encoding":{"text":{"field":"t","type":"nominal"},"x":{"datum":0.135,"type":"quantitative","scale":{"domain":[-0.55,1.0],"range":[371.7,607.7]}},"y":{"datum":0.629,"type":"quantitative","scale":{"domain":[-0.55,0.55],"range":[217.5,30.5]}}}}
 ]
},
{
 "layer":[
  {"data":{"name":"s"},"transform":[{"filter":"datum.f==2"}],"mark":{"type":"line","color":"#2e962e","strokeWidth":1.4,"interpolate":"monotone"},
   "encoding":{
    "x":{"field":"d","type":"quantitative","scale":{"domain":[0,400],"range":[568,618]},"axis":{"orient":"bottom","offset":-419,"values":[0,180,360],"format":".6~g","labelFontSize":12,"labelPadding":8.5,"title":null}},
    "y":{"field":"fx","type":"quantitative","scale":{"domain":[-20,20],"range":[98,62]},"axis":{"orient":"left","offset":-568,"values":[-15,0,15],"format":".6~g","labelFontSize":12,"labelPadding":6.3,"title":null}}}},
  {"data":{"values":[{"t":"F"}]},"mark":{"type":"text","font":"Liberation Serif","color":"#000000","fontSize":14,"align":"left","baseline":"alphabetic"},"encoding":{"text":{"field":"t","type":"nominal"},"x":{"datum":-250,"type":"quantitative","scale":{"domain":[0,400],"range":[568,618]}},"y":{"datum":-3,"type":"quantitative","scale":{"domain":[-20,20],"range":[98,62]}}}},
  {"data":{"values":[{"t":"x"}]},"mark":{"type":"text","font":"Liberation Serif","color":"#000000","fontSize":9,"align":"left","baseline":"alphabetic"},"encoding":{"text":{"field":"t","type":"nominal"},"x":{"datum":-198,"type":"quantitative","scale":{"domain":[0,400],"range":[568,618]}},"y":{"datum":-4.5,"type":"quantitative","scale":{"domain":[-20,20],"range":[98,62]}}}}
 ]
},
{
 "layer":[
  {"data":{"name":"s"},"transform":[{"filter":"datum.f==2"}],"mark":{"type":"line","color":"#2e962e","strokeWidth":1.4,"interpolate":"monotone"},
   "encoding":{
    "x":{"field":"d","type":"quantitative","scale":{"domain":[0,400],"range":[568,618]},"axis":{"orient":"bottom","offset":-337,"values":[0,180,360],"format":".6~g","labelFontSize":12,"labelPadding":8.5,"title":"Direction (deg)","titleFontSize":14,"titleX":596.7,"titleY":30,"titleBaseline":"alphabetic"}},
    "y":{"field":"fy","type":"quantitative","scale":{"domain":[-20,20],"range":[180,143]},"axis":{"orient":"left","offset":-568,"values":[-15,0,15],"format":".6~g","labelFontSize":12,"labelPadding":6.3,"title":null}}}},
  {"data":{"values":[{"t":"F"}]},"mark":{"type":"text","font":"Liberation Serif","color":"#000000","fontSize":14,"align":"left","baseline":"alphabetic"},"encoding":{"text":{"field":"t","type":"nominal"},"x":{"datum":-250,"type":"quantitative","scale":{"domain":[0,400],"range":[568,618]}},"y":{"datum":-2.7,"type":"quantitative","scale":{"domain":[-20,20],"range":[180,143]}}}},
  {"data":{"values":[{"t":"y"}]},"mark":{"type":"text","font":"Liberation Serif","color":"#000000","fontSize":9,"align":"left","baseline":"alphabetic"},"encoding":{"text":{"field":"t","type":"nominal"},"x":{"datum":-198,"type":"quantitative","scale":{"domain":[0,400],"range":[568,618]}},"y":{"datum":-4.3,"type":"quantitative","scale":{"domain":[-20,20],"range":[180,143]}}}}
 ]
},
{
 "layer":[
  {"data":{"name":"q"},"transform":[{"calculate":"datum.x+0.0155*datum.u4","as":"hx"},{"calculate":"datum.y+0.0155*datum.v4","as":"hy"}],
   "mark":{"type":"rule","color":"#ff2b2b","strokeWidth":1},
   "encoding":{
    "x":{"field":"x","type":"quantitative","scale":{"domain":[-0.55,1.0],"range":[48.3,284.3]},"axis":{"orient":"bottom","offset":-43.5,"values":[-0.5,0,0.5],"format":".6~g","labelPadding":8,"title":"X velocity (m/s)","titleFontSize":17,"titleX":152.5,"titleY":34,"titleBaseline":"alphabetic"}},
    "y":{"field":"y","type":"quantitative","scale":{"domain":[-0.55,0.55],"range":[473.5,286.5]},"axis":{"orient":"left","offset":-48.3,"values":[-0.5,0,0.5],"format":".6~g","labelPadding":6,"title":"Y Velocity (m/s)","titleFontSize":20,"titleX":-31.6,"titleY":400,"titleBaseline":"alphabetic","titleAngle":-90}},
    "x2":{"field":"hx"},"y2":{"field":"hy"}}},
  {"data":{"name":"q"},"transform":[{"calculate":"datum.x+0.0155*datum.u4","as":"hx"},{"calculate":"datum.y+0.0155*datum.v4","as":"hy"},{"calculate":"2.361*datum.u4","as":"dx"},{"calculate":"2.635*datum.v4","as":"dy"},{"calculate":"atan2(datum.dx,datum.dy)*180/PI","as":"ang"},{"calculate":"0.28*(datum.dx*datum.dx+datum.dy*datum.dy)","as":"hs"}],
   "mark":{"type":"point","shape":"M-0.4,1L0,0L0.4,1","filled":false,"color":"#ff2b2b","strokeWidth":1,"opacity":1},
   "encoding":{"x":{"field":"hx","type":"quantitative","scale":{"domain":[-0.55,1.0],"range":[48.3,284.3]}},"y":{"field":"hy","type":"quantitative","scale":{"domain":[-0.55,0.55],"range":[473.5,286.5]}},"angle":{"field":"ang","type":"quantitative","scale":null},"size":{"field":"hs","type":"quantitative","scale":null}}},
  {"data":{"values":[{"t":"C"}]},"mark":{"type":"text","font":"Liberation Serif","color":"#000000","fontWeight":"bold","fontSize":16,"align":"left","baseline":"alphabetic"},"encoding":{"text":{"field":"t","type":"nominal"},"x":{"datum":-0.769,"type":"quantitative","scale":{"domain":[-0.55,1.0],"range":[48.3,284.3]}},"y":{"datum":0.628,"type":"quantitative","scale":{"domain":[-0.55,0.55],"range":[473.5,286.5]}}}},
  {"data":{"values":[{"t":"Field 4"}]},"mark":{"type":"text","font":"Liberation Serif","color":"#000000","fontSize":19,"align":"center","baseline":"alphabetic"},"encoding":{"text":{"field":"t","type":"nominal"},"x":{"datum":0.069,"type":"quantitative","scale":{"domain":[-0.55,1.0],"range":[48.3,284.3]}},"y":{"datum":0.549,"type":"quantitative","scale":{"domain":[-0.55,0.55],"range":[473.5,286.5]}}}}
 ]
},
{
 "layer":[
  {"data":{"name":"s"},"transform":[{"filter":"datum.f==4"}],"mark":{"type":"line","color":"#e01b1b","strokeWidth":1.4,"interpolate":"monotone"},
   "encoding":{
    "x":{"field":"d","type":"quantitative","scale":{"domain":[0,400],"range":[243.3,293.3]},"axis":{"orient":"bottom","offset":-163,"values":[0,180,360],"format":".6~g","labelFontSize":12,"labelPadding":8.5,"title":null}},
    "y":{"field":"fx","type":"quantitative","scale":{"domain":[-20,20],"range":[354,318]},"axis":{"orient":"left","offset":-243.3,"values":[-15,0,15],"format":".6~g","labelFontSize":12,"labelPadding":6.3,"title":null}}}},
  {"data":{"values":[{"t":"F"}]},"mark":{"type":"text","font":"Liberation Serif","color":"#000000","fontSize":14,"align":"left","baseline":"alphabetic"},"encoding":{"text":{"field":"t","type":"nominal"},"x":{"datum":-248,"type":"quantitative","scale":{"domain":[0,400],"range":[243.3,293.3]}},"y":{"datum":-3,"type":"quantitative","scale":{"domain":[-20,20],"range":[354,318]}}}},
  {"data":{"values":[{"t":"x"}]},"mark":{"type":"text","font":"Liberation Serif","color":"#000000","fontSize":9,"align":"left","baseline":"alphabetic"},"encoding":{"text":{"field":"t","type":"nominal"},"x":{"datum":-196,"type":"quantitative","scale":{"domain":[0,400],"range":[243.3,293.3]}},"y":{"datum":-4.5,"type":"quantitative","scale":{"domain":[-20,20],"range":[354,318]}}}}
 ]
},
{
 "layer":[
  {"data":{"name":"s"},"transform":[{"filter":"datum.f==4"}],"mark":{"type":"line","color":"#e01b1b","strokeWidth":1.4,"interpolate":"monotone"},
   "encoding":{
    "x":{"field":"d","type":"quantitative","scale":{"domain":[0,400],"range":[243.3,293.3]},"axis":{"orient":"bottom","offset":-81,"values":[0,180,360],"format":".6~g","labelFontSize":12,"labelPadding":8.5,"title":"Direction (deg)","titleFontSize":14,"titleX":265.8,"titleY":31,"titleBaseline":"alphabetic"}},
    "y":{"field":"fy","type":"quantitative","scale":{"domain":[-20,20],"range":[436,399]},"axis":{"orient":"left","offset":-243.3,"values":[-15,0,15],"format":".6~g","labelFontSize":12,"labelPadding":6.3,"title":null}}}},
  {"data":{"values":[{"t":"F"}]},"mark":{"type":"text","font":"Liberation Serif","color":"#000000","fontSize":14,"align":"left","baseline":"alphabetic"},"encoding":{"text":{"field":"t","type":"nominal"},"x":{"datum":-248,"type":"quantitative","scale":{"domain":[0,400],"range":[243.3,293.3]}},"y":{"datum":-2.7,"type":"quantitative","scale":{"domain":[-20,20],"range":[436,399]}}}},
  {"data":{"values":[{"t":"y"}]},"mark":{"type":"text","font":"Liberation Serif","color":"#000000","fontSize":9,"align":"left","baseline":"alphabetic"},"encoding":{"text":{"field":"t","type":"nominal"},"x":{"datum":-196,"type":"quantitative","scale":{"domain":[0,400],"range":[243.3,293.3]}},"y":{"datum":-4.3,"type":"quantitative","scale":{"domain":[-20,20],"range":[436,399]}}}}
 ]
},
{
 "layer":[
  {"data":{"name":"c"},"mark":{"type":"line","strokeWidth":1.2},
   "encoding":{
    "x":{"field":"n","type":"quantitative","scale":{"domain":[0,320],"range":[372.7,608.3]},"axis":{"orient":"bottom","offset":-44.3,"values":[0,100,200,300],"format":".6~g","labelPadding":7.6,"title":"Movement Number","titleFontSize":17,"titleX":508.3,"titleY":37.3,"titleBaseline":"alphabetic"}},
    "y":{"field":"c","type":"quantitative","scale":{"domain":[0.8,1],"range":[472.7,286]},"axis":{"orient":"left","offset":-372.7,"values":[0.8,0.85,0.9,0.95,1],"format":".6~g","labelPadding":8,"title":"Correlation","titleFontSize":20,"titleX":-44.7,"titleY":380.7,"titleBaseline":"alphabetic","titleAngle":-90}},
    "color":{"field":"s","type":"nominal","scale":{"domain":["b","g","r"],"range":["#1a1a9a","#2a9a2a","#ff1a1a"]},"legend":null}}},
  {"data":{"values":[{"t":"D"}]},"mark":{"type":"text","font":"Liberation Serif","color":"#000000","fontWeight":"bold","fontSize":16,"align":"left","baseline":"alphabetic"},"encoding":{"text":{"field":"t","type":"nominal"},"x":{"datum":0.4,"type":"quantitative","scale":{"domain":[0,320],"range":[372.7,608.3]}},"y":{"datum":1.014,"type":"quantitative","scale":{"domain":[0.8,1],"range":[472.7,286]}}}}
 ]
}
],
"resolve":{"scale":{"x":"independent","y":"independent"},"axis":{"x":"independent","y":"independent"}}
}
